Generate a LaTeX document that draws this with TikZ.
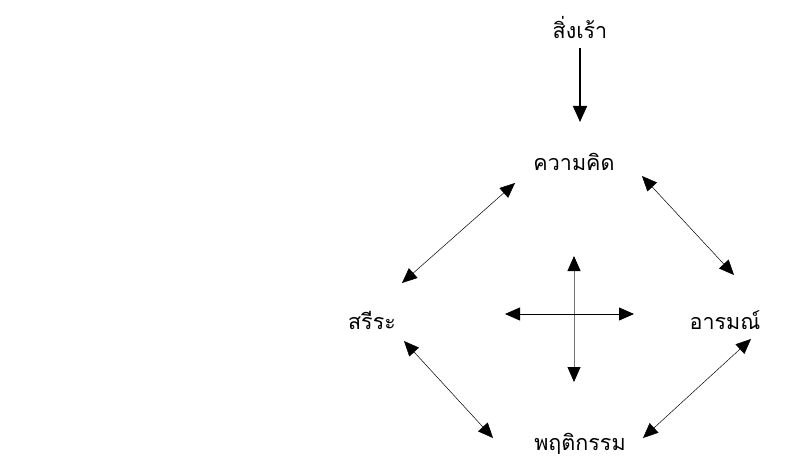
\documentclass[tikz,border=0pt]{standalone}
\usepackage{fontspec}
\newfontfamily\thaifont[Script=Thai]{Loma}
\usetikzlibrary{arrows.meta}
\begin{document}
\begin{tikzpicture}[x=1pt,y=-1pt,
  lbl/.style={font=\thaifont\fontsize{21.5}{24}\selectfont, inner sep=0pt},
  tip/.style={-{Triangle[length=16pt,width=14pt]}},
  dbl/.style={{Triangle[length=15pt,width=13pt,black]}-{Triangle[length=15pt,width=13pt,black]}, line width=0.5pt}]
\useasboundingbox (0,0) rectangle (811,468);
\node[lbl] (stim) at (580,28) {สิ่งเร้า};
\node[lbl] (think) at (574,162) {ความคิด};
\node[lbl] (body) at (372,320) {สรีระ};
\node[lbl] (emo) at (725,320) {อารมณ์};
\node[lbl] (beh) at (580,444) {พฤติกรรม};
\coordinate (a1) at (580,48);
\coordinate (a2) at (580,122);
\draw[tip, line width=1.5pt] (a1) -- (a2);
% diagonals
\coordinate (nw1) at (515,183);
\coordinate (nw2) at (402,283);
\draw[dbl] (nw1) -- (nw2);
\coordinate (ne1) at (642,176);
\coordinate (ne2) at (734,275);
\draw[dbl] (ne1) -- (ne2);
\coordinate (sw1) at (404,341);
\coordinate (sw2) at (493,438);
\draw[dbl] (sw1) -- (sw2);
\coordinate (se1) at (751,339);
\coordinate (se2) at (643,438);
\draw[dbl] (se1) -- (se2);
% cross
\coordinate (cu) at (574,256);
\coordinate (cd) at (574,382);
\coordinate (cl) at (505,314);
\coordinate (cr) at (634,314);
\draw[dbl, draw=black!55, line width=0.8pt] (cu) -- (cd);
\draw[dbl, line width=0.8pt] (cl) -- (cr);
\end{tikzpicture}
\end{document}
